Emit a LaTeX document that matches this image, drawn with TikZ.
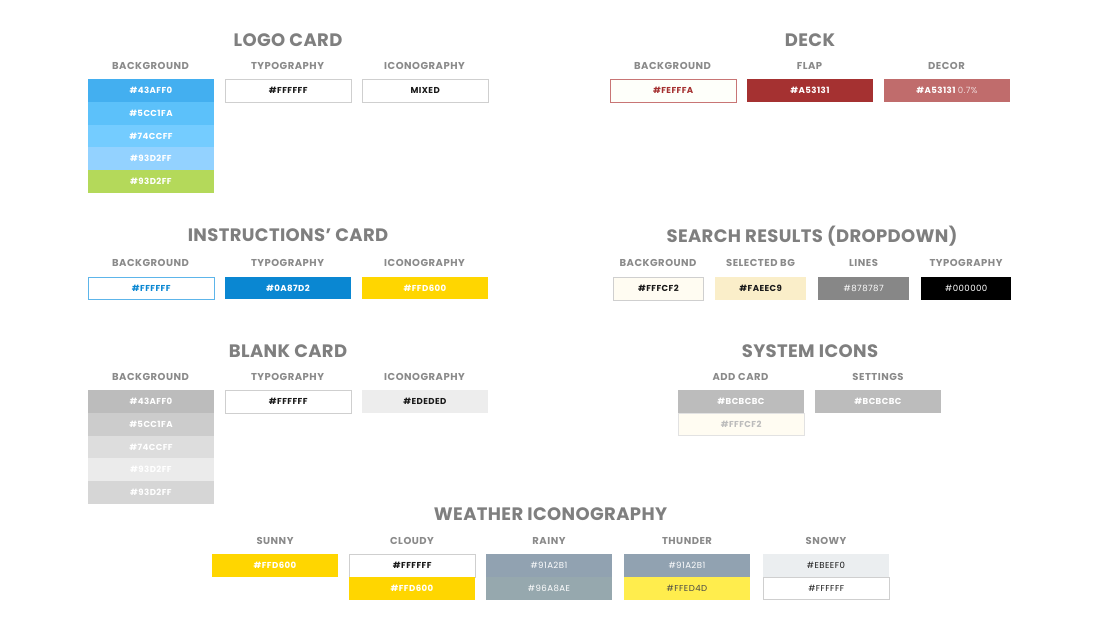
\documentclass[tikz,border=0pt]{standalone}
\usepackage{fontspec}
\setmainfont{Poppins}
\newfontfamily\titlefont[LetterSpace=2]{Poppins}
\newfontfamily\labelfont[LetterSpace=5]{Poppins}
\newfontfamily\swfont[LetterSpace=5]{Poppins}
\usetikzlibrary{positioning}
\definecolor{titlegray}{HTML}{7F7F7F}
\definecolor{labelgray}{HTML}{8A8A8A}
\definecolor{bordergray}{HTML}{CFCFCF}
\definecolor{cA}{HTML}{43AFF0}
\definecolor{cB}{HTML}{5CC1FA}
\definecolor{cC}{HTML}{74CCFF}
\definecolor{cD}{HTML}{93D2FF}
\definecolor{cGreen}{HTML}{B4D95A}
\definecolor{deckbg}{HTML}{FEFFFA}
\definecolor{deckborder}{HTML}{C87575}
\definecolor{flap}{HTML}{A53131}
\definecolor{decor}{HTML}{C06C6C}
\definecolor{instblue}{HTML}{0A87D2}
\definecolor{instborder}{HTML}{5DB5EA}
\definecolor{yellow}{HTML}{FFD600}
\definecolor{fffcf2}{HTML}{FFFCF2}
\definecolor{faeec9}{HTML}{FAEEC9}
\definecolor{lines}{HTML}{878787}
\definecolor{gA}{HTML}{BCBCBC}
\definecolor{gB}{HTML}{CCCCCC}
\definecolor{gC}{HTML}{DDDDDD}
\definecolor{gD}{HTML}{EBEBEB}
\definecolor{gE}{HTML}{D6D6D6}
\definecolor{ededed}{HTML}{EDEDED}
\definecolor{rainA}{HTML}{91A2B1}
\definecolor{rainB}{HTML}{96A8AE}
\definecolor{thunder}{HTML}{FFED4D}
\definecolor{snow}{HTML}{EBEEF0}
\definecolor{dark}{HTML}{1A1A1A}
\tikzset{
  sectitle/.style={font=\titlefont\bfseries\fontsize{18}{18}\selectfont, text=titlegray, inner sep=0pt},
  collabel/.style={font=\labelfont\bfseries\fontsize{10}{10}\selectfont, text=labelgray, inner sep=0pt},
  swatch/.style={minimum width=125.5pt, minimum height=22.7pt, inner sep=0pt, anchor=north west,
    font=\swfont\bfseries\fontsize{8.6}{8.6}\selectfont, text=white},
  medtext/.style={font=\swfont\mdseries\fontsize{8.6}{8.6}\selectfont},
  outlined/.style={swatch, draw=bordergray, line width=0.9pt, fill=white, text=dark},
}
\begin{document}
\begin{tikzpicture}[x=1pt,y=-1pt]
\useasboundingbox[fill=white] (0,0) rectangle (1101,625);

% ---------------- LOGO CARD ----------------
\node[sectitle] (t1) at (288,40) {LOGO CARD};
\node[collabel] (l1a) at (150.5,65.5) {BACKGROUND};
\node[collabel] (l1b) at (287.5,65.5) {TYPOGRAPHY};
\node[collabel] (l1c) at (424.5,65.5) {ICONOGRAPHY};
\node[swatch, fill=cA] (lg1) at (88,79) {\#43AFF0};
\node[swatch, fill=cB] (lg2) at (88,101.7) {\#5CC1FA};
\node[swatch, fill=cC] (lg3) at (88,124.4) {\#74CCFF};
\node[swatch, fill=cD] (lg4) at (88,147.1) {\#93D2FF};
\node[swatch, fill=cGreen] (lg5) at (88,169.8) {\#93D2FF};
\node[outlined] (lgt) at (225,79) {\#FFFFFF};
\node[outlined] (lgi) at (362,79) {MIXED};

% ---------------- DECK ----------------
\node[sectitle] (t2) at (810,40) {DECK};
\node[collabel] (l2a) at (672.5,65.5) {BACKGROUND};
\node[collabel] (l2b) at (809.5,65.5) {FLAP};
\node[collabel] (l2c) at (946.5,65.5) {DECOR};
\node[outlined, fill=deckbg, draw=deckborder, text=flap] (dk1) at (610,79) {\#FEFFFA};
\node[swatch, fill=flap] (dk2) at (747,79) {\#A53131};
\node[swatch, fill=decor] (dk3) at (884,79) {\#A53131 {\mdseries\color{white!75!decor}0.7\%}};

% ---------------- INSTRUCTIONS ----------------
\node[sectitle] (t3) at (288,235) {INSTRUCTIONS’ CARD};
\node[collabel] (l3a) at (150.5,262.5) {BACKGROUND};
\node[collabel] (l3b) at (287.5,262.5) {TYPOGRAPHY};
\node[collabel] (l3c) at (424.5,262.5) {ICONOGRAPHY};
\node[outlined, draw=instborder, text=instblue] (in1) at (88,276.5) {\#FFFFFF};
\node[swatch, fill=instblue] (in2) at (225,276.5) {\#0A87D2};
\node[swatch, fill=yellow] (in3) at (362,276.5) {\#FFD600};

% ---------------- SEARCH RESULTS ----------------
\node[sectitle] (t4) at (812,236) {SEARCH RESULTS (DROPDOWN)};
\node[collabel] (l4a) at (658,262.5) {BACKGROUND};
\node[collabel] (l4b) at (760.5,262.5) {SELECTED BG};
\node[collabel] (l4c) at (863.5,262.5) {LINES};
\node[collabel] (l4d) at (966,262.5) {TYPOGRAPHY};
\node[outlined, fill=fffcf2, minimum width=90pt] (sr1) at (613,277) {\#FFFCF2};
\node[swatch, fill=faeec9, text=dark, minimum width=91pt] (sr2) at (715,277) {\#FAEEC9};
\node[swatch, medtext, fill=lines, minimum width=91pt] (sr3) at (818,277) {\#878787};
\node[swatch, medtext, fill=black, minimum width=90pt] (sr4) at (921,277) {\#000000};

% ---------------- BLANK CARD ----------------
\node[sectitle] (t5) at (288,351) {BLANK CARD};
\node[collabel] (l5a) at (150.5,377) {BACKGROUND};
\node[collabel] (l5b) at (287.5,377) {TYPOGRAPHY};
\node[collabel] (l5c) at (424.5,377) {ICONOGRAPHY};
\node[swatch, fill=gA] (bl1) at (88,390) {\#43AFF0};
\node[swatch, fill=gB] (bl2) at (88,412.7) {\#5CC1FA};
\node[swatch, fill=gC] (bl3) at (88,435.4) {\#74CCFF};
\node[swatch, fill=gD] (bl4) at (88,458.1) {\#93D2FF};
\node[swatch, fill=gE] (bl5) at (88,480.8) {\#93D2FF};
\node[outlined] (blt) at (225,390) {\#FFFFFF};
\node[swatch, fill=ededed, text=dark] (bli) at (362,390) {\#EDEDED};

% ---------------- SYSTEM ICONS ----------------
\node[sectitle] (t6) at (810,351) {SYSTEM ICONS};
\node[collabel] (l6a) at (740.5,377) {ADD CARD};
\node[collabel] (l6b) at (878,377) {SETTINGS};
\node[swatch, fill=gA] (sy1) at (678,390) {\#BCBCBC};
\node[outlined, fill=fffcf2, draw=bordergray!60, text=gA] (sy2) at (678,412.7) {\#FFFCF2};
\node[swatch, fill=gA] (sy3) at (815,390) {\#BCBCBC};

% ---------------- WEATHER ----------------
\node[sectitle] (t7) at (550.5,514) {WEATHER ICONOGRAPHY};
\node[collabel] (l7a) at (275,541) {SUNNY};
\node[collabel] (l7b) at (412,541) {CLOUDY};
\node[collabel] (l7c) at (549,541) {RAINY};
\node[collabel] (l7d) at (687,541) {THUNDER};
\node[collabel] (l7e) at (826,541) {SNOWY};
\node[swatch, fill=yellow] (w1) at (212,554) {\#FFD600};
\node[outlined] (w2a) at (349,554) {\#FFFFFF};
\node[swatch, fill=yellow] (w2b) at (349,576.7) {\#FFD600};
\node[swatch, medtext, fill=rainA] (w3a) at (486,554) {\#91A2B1};
\node[swatch, medtext, fill=rainB] (w3b) at (486,576.7) {\#96A8AE};
\node[swatch, medtext, fill=rainA] (w4a) at (624,554) {\#91A2B1};
\node[swatch, medtext, fill=thunder, text=dark!80] (w4b) at (624,576.7) {\#FFED4D};
\node[swatch, medtext, fill=snow, text=dark] (w5a) at (763,554) {\#EBEEF0};
\node[outlined, medtext] (w5b) at (763,576.7) {\#FFFFFF};
\end{tikzpicture}
\end{document}
